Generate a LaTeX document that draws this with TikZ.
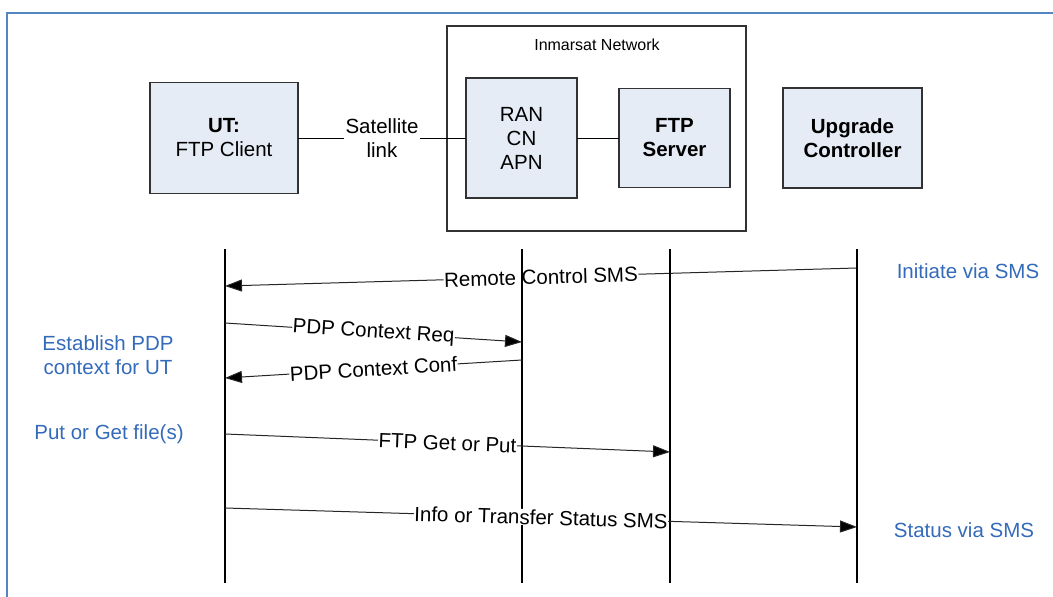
\documentclass[tikz,border=0pt]{standalone}
\usepackage{fontspec}
\setmainfont{Liberation Sans}
\usetikzlibrary{arrows.meta}
\definecolor{boxfill}{RGB}{230,236,246}
\definecolor{boxline}{RGB}{50,50,50}
\definecolor{noteblue}{RGB}{52,106,186}
\definecolor{frameblue}{RGB}{84,134,196}
\tikzset{
 ent/.style={draw=boxline, line width=1.2pt, fill=boxfill, align=center, inner sep=0pt, outer sep=0pt, font=\fontsize{20.5}{24}\selectfont},
 netbox/.style={draw=boxline, line width=1.2pt, inner sep=0pt, outer sep=0pt},
 lifeline/.style={line width=1.2pt, black},
 msg/.style={line width=1pt, draw=black!85, -{Triangle[length=17pt,width=12pt,fill=black]}},
 msglabel/.style={midway, sloped, fill=white, inner sep=0.5pt, font=\fontsize{20.5}{24}\selectfont},
 note/.style={text=noteblue, align=center, font=\fontsize{20.5}{24}\selectfont},
 linkline/.style={line width=1pt}
}
\begin{document}
\begin{tikzpicture}[x=1pt,y=-1pt]
\useasboundingbox (0,0) rectangle (1053,597);
% outer frame
\draw[frameblue, line width=2.2pt] (7,610) -- (7,13) -- (1060,13);
% network box
\node[netbox, minimum width=299pt, minimum height=205pt] (net) at (596.5,128.5) {};
\node[font=\fontsize{16}{19}\selectfont] (netlabel) at (597,45) {Inmarsat Network};
% entities
\node[ent, minimum width=148pt, minimum height=111pt] (ut) at (224,138) {\textbf{UT:}\\FTP Client};
\node[ent, minimum width=111pt, minimum height=120pt] (ran) at (521.5,138) {RAN\\CN\\APN};
\node[ent, minimum width=111pt, minimum height=99pt] (ftp) at (674.5,138) {\textbf{FTP}\\\textbf{Server}};
\node[ent, minimum width=139pt, minimum height=100pt] (upc) at (852.5,138) {\textbf{Upgrade}\\\textbf{Controller}};
% links
\draw[linkline] (ut) -- node[fill=white, align=center, inner sep=2pt, font=\fontsize{20.5}{24}\selectfont] (satlabel) {Satellite\\link} (ran);
\draw[linkline] (ran) -- (ftp);
% lifeline coordinates
\coordinate (utT) at (225,249);  \coordinate (utB) at (225,583);
\coordinate (ranT) at (522,249); \coordinate (ranB) at (522,583);
\coordinate (ftpT) at (670,249); \coordinate (ftpB) at (670,583);
\coordinate (upcT) at (857,249); \coordinate (upcB) at (857,583);
% message endpoints
\coordinate (m1s) at (857,268); \coordinate (m1e) at (225,286);
\coordinate (m2s) at (225,323); \coordinate (m2e) at (522,342);
\coordinate (m3s) at (522,360); \coordinate (m3e) at (225,378);
\coordinate (m4s) at (225,434); \coordinate (m4e) at (670,452);
\coordinate (m5s) at (225,508); \coordinate (m5e) at (857,527);
% message 1 (lifeline drawn over its label)
\draw[msg] (m1s) -- node[msglabel] (l1) {Remote Control SMS} (m1e);
% lifelines
\draw[lifeline] (utT) -- (utB);
\draw[lifeline] (ranT) -- (ranB);
\draw[lifeline] (ftpT) -- (ftpB);
\draw[lifeline] (upcT) -- (upcB);
% other messages
\draw[msg] (m2s) -- node[msglabel] (l2) {PDP Context Req} (m2e);
\draw[msg] (m3s) -- node[msglabel] (l3) {PDP Context Conf} (m3e);
\draw[msg] (m4s) -- node[msglabel] (l4) {FTP Get or Put} (m4e);
\draw[msg] (m5s) -- node[msglabel] (l5) {Info or Transfer Status SMS} (m5e);
% notes
\node[note] (n1) at (968,271) {Initiate via SMS};
\node[note] (n2) at (108,355) {Establish PDP\\context for UT};
\node[note] (n3) at (109,434) {Put or Get file(s)};
\node[note] (n4) at (964,530) {Status via SMS};
\end{tikzpicture}
\end{document}
